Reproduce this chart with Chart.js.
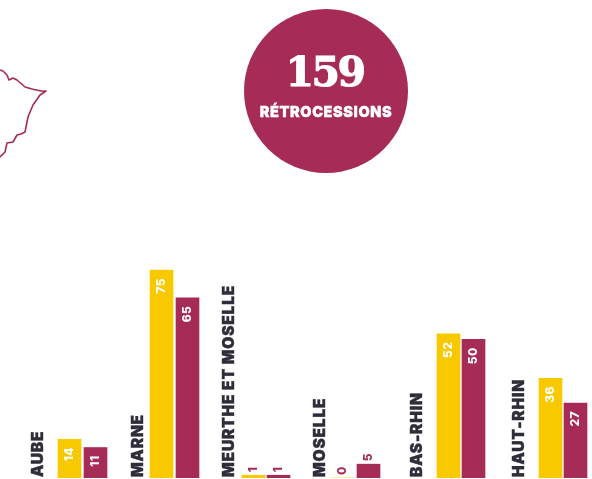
<!DOCTYPE html>
<html lang="fr">
<head>
<meta charset="utf-8">
<title>Rétrocessions</title>
<style>
  html, body { margin: 0; padding: 0; background: #fff; overflow: hidden; }
  #page { position: relative; width: 592px; height: 479px; }
  #myChart { position: absolute; left: 0; top: 0; }
  #contour { position: absolute; left: 0; top: 0; }
  #rond {
    position: absolute; left: 244px; top: 9px; width: 164px; height: 164px;
    border-radius: 50%; background: #a72b57; color: #fff; text-align: center;
  }
  #total {
    position: absolute; left: -3px; right: 0; top: 37px;
    font: bold 41px/52px "DejaVu Serif", serif; letter-spacing: -2.5px;
    -webkit-text-stroke: 1px #fff;
  }
  #libelle {
    position: absolute; left: 0; right: 0; top: 94px;
    font: 900 14.5px/18px Inter, sans-serif; letter-spacing: 0.6px;
    -webkit-text-stroke: 0.3px #fff;
  }
</style>
</head>
<body>
<div id="page">
  <canvas id="myChart" width="592" height="479"></canvas>
  <svg id="contour" width="60" height="170">
    <path d="M0 70 L3 71 L7 75 L9 80 L13 78 L17 80 L25 87 L32 89 L41 91 L46 91 L40 95 L33 105 L28 117 L25 132 L21 134 L17 135 L13 142 L7 143 L5 152 L0 157"
      fill="none" stroke="#a72b57" stroke-width="1.6" stroke-linejoin="round"/>
  </svg>
  <div id="rond">
    <div id="total">159</div>
    <div id="libelle">RÉTROCESSIONS</div>
  </div>
</div>
<script src="https://cdn.jsdelivr.net/npm/chart.js@4"></script>
<script>
// Données
const departements = ["AUBE", "MARNE", "MEURTHE ET MOSELLE", "MOSELLE", "BAS-RHIN", "HAUT-RHIN"];
const serieJaune = [14, 75, 1, 0, 52, 36];
const serieRouge = [11, 65, 1, 5, 50, 27];

// Placement des groupes sur l'axe x (espacement irrégulier dans l'original)
const xLibelles = [38, 138, 229, 320, 417, 519];
const xJaune = [69.5, 161.5, 253.5, 342, 448.5, 550.5];
const xRouge = [95.5, 187.5, 278.5, 368.5, 473.5, 575.5];

const JAUNE = "#f9c900";
const ROUGE = "#a72b57";
const POLICE = "Inter, sans-serif";

const toPoints = (xs, ys) => ys.map((y, i) => ({ x: xs[i], y: y }));

// Libellés verticaux des départements et valeurs sur les barres
const etiquettes = {
  id: "etiquettes",
  afterDatasetsDraw(chart) {
    const { ctx, scales } = chart;
    const base = scales.y.getPixelForValue(0);

    const vertical = (texte, x, y, align, font, couleur, espace, trait) => {
      ctx.save();
      ctx.translate(x, y);
      ctx.rotate(-Math.PI / 2);
      ctx.textAlign = align;
      ctx.textBaseline = "middle";
      ctx.font = font;
      ctx.letterSpacing = espace;
      ctx.fillStyle = couleur;
      ctx.fillText(texte, 0, 0);
      if (trait) {
        ctx.strokeStyle = couleur;
        ctx.lineWidth = trait;
        ctx.strokeText(texte, 0, 0);
      }
      ctx.restore();
    };

    departements.forEach((nom, i) => {
      vertical(nom, scales.x.getPixelForValue(xLibelles[i]), base - 1, "left", "900 15.5px " + POLICE, "#2e2e3a", "0.8px", 0.4);
    });

    chart.data.datasets.forEach((ds) => {
      ds.data.forEach((pt) => {
        const x = scales.x.getPixelForValue(pt.x);
        const y = scales.y.getPixelForValue(pt.y);
        if (pt.y >= 10) {
          vertical(String(pt.y), x, y + 8, "right", "800 12px " + POLICE, "#fff", "0.3px", 0);
        } else {
          vertical(String(pt.y), x, y - 3, "left", "800 12px " + POLICE, ROUGE, "0.3px", 0);
        }
      });
    });
  },
};

const ctx = document.getElementById("myChart").getContext("2d");
new Chart(ctx, {
  type: "bar",
  data: {
    datasets: [
      { label: "Jaune", data: toPoints(xJaune, serieJaune), backgroundColor: JAUNE },
      { label: "Rouge", data: toPoints(xRouge, serieRouge), backgroundColor: ROUGE },
    ],
  },
  options: {
    responsive: false,
    animation: false,
    layout: { padding: { bottom: 1 } },
    grouped: false,
    barThickness: 23,
    plugins: { legend: { display: false }, tooltip: { enabled: false } },
    scales: {
      x: { type: "linear", offset: false, min: 0, max: 592, display: false },
      y: { min: 0, max: 172.5, display: false },
    },
  },
  plugins: [etiquettes],
});
</script>
</body>
</html>
